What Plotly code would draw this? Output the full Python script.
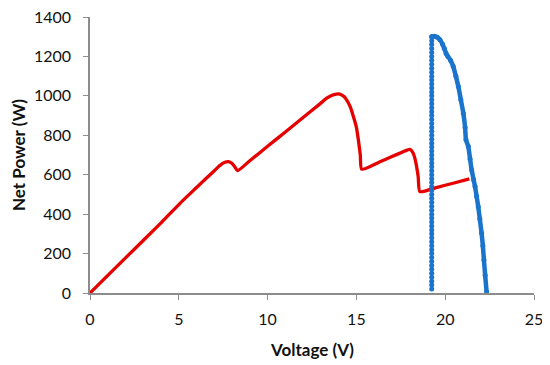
import plotly.graph_objects as go

# Red series: net power vs voltage (P-V curve under partial shading)
red_v = [0, 2, 4, 5.07, 6.0, 6.5, 7.0, 7.3, 7.6, 7.8, 8.0, 8.15, 8.31,
         9.0, 10.0, 11.0, 12.0, 13.0, 13.33, 13.6, 13.8, 13.97, 14.15, 14.3,
         14.45, 14.65, 14.83, 15.0, 15.11, 15.22, 15.3,
         16.33, 17.0, 17.6, 17.85, 18.02, 18.2, 18.3, 18.39, 18.48, 18.58,
         19.5, 20.5, 21.36]
red_p = [0, 178, 356, 455, 535, 578, 620, 646, 663, 666, 657, 640, 621,
         671, 744, 817, 890, 963, 988, 1002, 1008, 1010, 1006, 997,
         980, 945, 895, 840, 777, 700, 628,
         666, 692, 715, 725, 729, 709, 680, 641, 590, 514,
         535, 558, 579]

# Blue series: operating points (vertical scan)
blue_scan_v = [19.24] * 65
blue_scan_p = [20, 40, 60, 80, 100, 120, 140, 160, 180, 200,
               220, 240, 260, 280, 300, 320, 340, 360, 380, 400,
               420, 440, 460, 480, 500, 520, 540, 560, 580, 600,
               620, 640, 660, 680, 700, 720, 740, 760, 780, 800,
               820, 840, 860, 880, 900, 920, 940, 960, 980, 1000,
               1020, 1040, 1060, 1080, 1100, 1120, 1140, 1160, 1180, 1200,
               1220, 1240, 1260, 1280, 1300]

# Blue series: P-V curve of the unshaded operating region
blue_curve_v = [19.24, 19.4, 19.55, 19.7, 19.85, 19.95, 20.05, 20.15, 20.3,
                20.45, 20.6, 20.74, 20.88, 21.02, 21.12, 21.17, 21.3, 21.4,
                21.49, 21.6, 21.68, 21.77, 21.86, 21.95, 22.05, 22.12, 22.18,
                22.25, 22.33]
blue_curve_p = [1300, 1302, 1297, 1285, 1262, 1240, 1215, 1200, 1180,
                1150, 1100, 1047, 980, 912, 840, 777, 743, 680,
                624, 575, 540, 490, 438, 375, 303, 240, 168,
                90, 7]

x_ticks = [0, 5, 10, 15, 20, 25]
y_ticks = [0, 200, 400, 600, 800, 1000, 1200, 1400]
x_title = "Voltage (V)"
y_title = "Net Power (W)"

RED = "#e60000"
BLUE = "#1a74cc"
AXIS = "#8c8c8c"
FONT = "Lato, 'Open Sans', sans-serif"

fig = go.Figure()
fig.add_trace(go.Scatter(x=red_v, y=red_p, mode="lines",
                         line=dict(color=RED, width=3.3, shape="spline", smoothing=0.6),
                         showlegend=False, hoverinfo="skip"))
fig.add_trace(go.Scatter(x=blue_curve_v, y=blue_curve_p, mode="lines+markers",
                         line=dict(color=BLUE, width=4.5, shape="spline", smoothing=0.6),
                         marker=dict(color=BLUE, size=5),
                         showlegend=False))
fig.add_trace(go.Scatter(x=blue_scan_v, y=blue_scan_p, mode="markers",
                         marker=dict(color=BLUE, size=5),
                         showlegend=False))

# page body has an 8px margin: figure is 542x357, offset by 8px
fig.update_layout(
    width=542, height=357,
    margin=dict(l=82, r=16, t=9, b=72),
    paper_bgcolor="white", plot_bgcolor="white",
    font=dict(family=FONT, size=16, color="#111111"),
    annotations=[
        dict(text="<b>" + x_title + "</b>", xref="paper", yref="paper",
             x=0.5, y=0, yshift=-56, xanchor="center", yanchor="middle",
             showarrow=False, font=dict(size=17)),
        dict(text="<b>" + y_title + "</b>", xref="paper", yref="paper",
             x=0, y=0.5, xshift=-72, xanchor="center", yanchor="middle",
             textangle=-90, showarrow=False, font=dict(size=17)),
    ],
)
fig.update_xaxes(range=[0, 25], tickvals=x_ticks, showgrid=False, zeroline=False,
                 automargin=False, ticklabelstandoff=6, ticklabeloverflow="allow",
                 showline=True, linecolor=AXIS, linewidth=1.5,
                 ticks="outside", ticklen=5, tickcolor=AXIS)
fig.update_yaxes(range=[0, 1400], tickvals=y_ticks, showgrid=False, zeroline=False,
                 automargin=False, ticklabelstandoff=9, ticklabeloverflow="allow",
                 showline=True, linecolor=AXIS, linewidth=1.5,
                 ticks="outside", ticklen=5, tickcolor=AXIS)

fig.write_html("out.html")
